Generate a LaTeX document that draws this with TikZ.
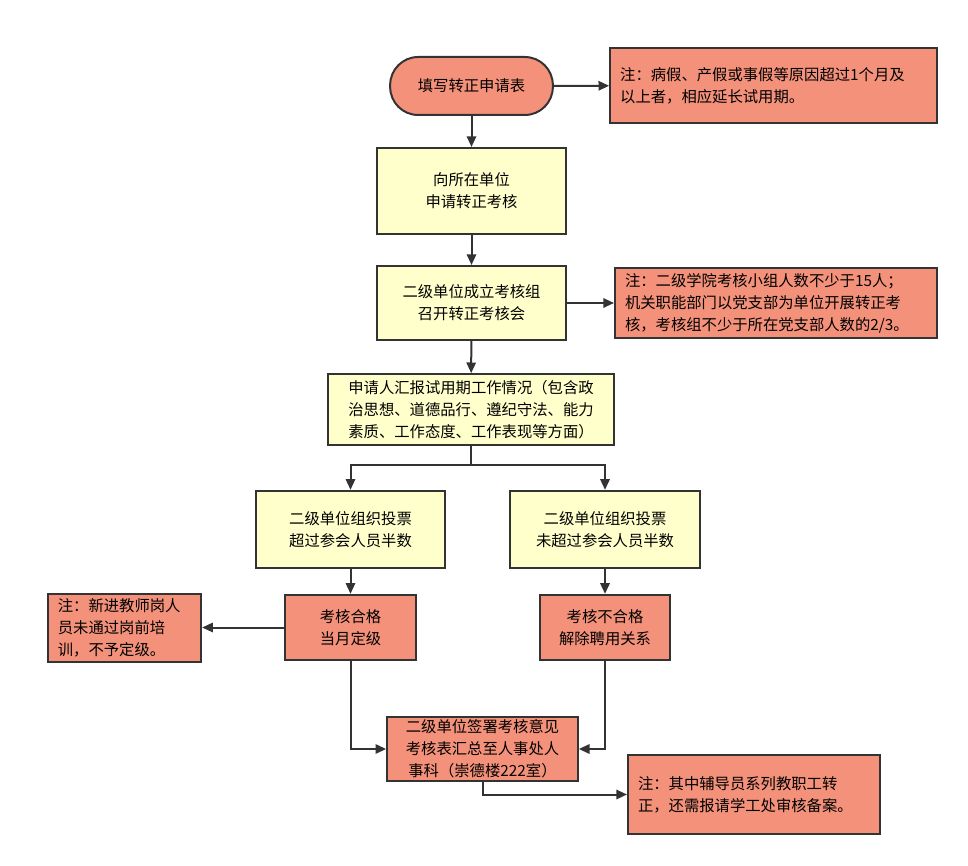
\documentclass[tikz,border=0pt]{standalone}
\usepackage{fontspec}
\setmainfont{Noto Sans CJK SC}
\usepackage{xcolor}
\usetikzlibrary{arrows.meta, positioning}
\definecolor{salmon}{HTML}{F4917A}
\definecolor{paleyellow}{HTML}{FFFFCC}
\definecolor{linegray}{HTML}{333333}

\begin{document}
\begin{tikzpicture}[x=0.75pt,y=-0.75pt,
    box/.style={draw=linegray,line width=1.5pt,font=\fontsize{11.5}{16.5}\selectfont,inner sep=7.5pt},
    yellowbox/.style={box,fill=paleyellow,align=center},
    redbox/.style={box,fill=salmon,align=center},
    notebox/.style={box,fill=salmon,align=left},
    arr/.style={draw=linegray,line width=1.5pt,-{Triangle[length=8pt,width=7pt]}}]
  \useasboundingbox (0,0) rectangle (968,866);
        \begin{scope}[every node/.style={}]
          \node[redbox,rounded corners=21pt,minimum width=122pt,minimum height=43.5pt] (fill) at (471.5,86) {填写转正申请表};
          \node[notebox,text width=230pt,minimum height=56pt] (note1) at (773.5,85.5) {注：病假、产假或事假等原因超过1个月及\\以上者，相应延长试用期。};
          \node[yellowbox,minimum width=142pt,minimum height=64.5pt] (apply) at (471.5,191) {向所在单位\\申请转正考核};
          \node[yellowbox,minimum width=142pt,minimum height=55.5pt] (group) at (471.5,303) {二级单位成立考核组\\召开转正考核会};
          \node[notebox,text width=226.5pt,minimum height=52.5pt,inner ysep=1.5pt] (note2) at (776,303) {注：二级学院考核小组人数不少于15人；\\机关职能部门以党支部为单位开展转正考\\核，考核组不少于所在党支部人数的2/3。};
          \node[yellowbox,align=left,minimum width=214.5pt,minimum height=53pt,inner sep=3pt] (report) at (471,409.5) {申请人汇报试用期工作情况（包含政\\治思想、道德品行、遵纪守法、能力\\素质、工作态度、工作表现等方面）};
          \node[yellowbox,minimum width=142pt,minimum height=58pt] (votepass) at (350.5,529.5) {二级单位组织投票\\超过参会人员半数};
          \node[yellowbox,minimum width=142pt,minimum height=58pt] (votefail) at (605,529.5) {二级单位组织投票\\未超过参会人员半数};
          \node[redbox,minimum width=98pt,minimum height=49pt] (pass) at (350.5,627.5) {考核合格\\当月定级};
          \node[redbox,minimum width=97.5pt,minimum height=49pt] (fail) at (605,627.5) {考核不合格\\解除聘用关系};
          \node[notebox,text width=100pt,minimum height=51pt,inner ysep=2pt] (note3) at (124.5,627.5) {注：新进教师岗人\\员未通过岗前培\\训，不予定级。};
          \node[redbox,minimum width=143pt,minimum height=46.5pt,inner sep=2pt] (sign) at (482.5,749) {二级单位签署考核意见\\考核表汇总至人事处人\\事科（崇德楼222室）};
          \node[notebox,text width=174pt,minimum height=59pt] (note4) at (754,794.5) {注：其中辅导员系列教职工转\\正，还需报请学工处审核备案。};
          \coordinate (split) at (471,465);
        \end{scope}
        \begin{scope}[every edge/.style={arr}]
          \path (fill) edge (note1);
          \path (fill) edge (apply);
          \path (apply) edge (group);
          \path (group) edge (note2);
          \path (group) edge (report);
          \path (votepass) edge (pass);
          \path (votefail) edge (fail);
          \path (pass) edge (note3);
        \end{scope}
        \draw[draw=linegray,line width=1.5pt] (report) -- (split);
        \draw[arr] (split) -| (votepass);
        \draw[arr] (split) -| (votefail);
        \draw[arr] (pass) |- (sign);
        \draw[arr] (fail) |- (sign);
        \draw[arr] (sign) |- (note4);
      \end{tikzpicture}
\end{document}
